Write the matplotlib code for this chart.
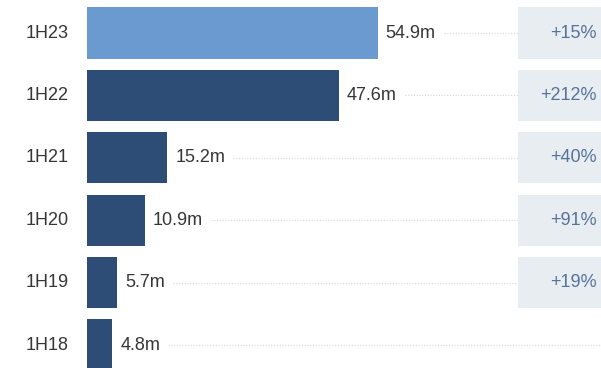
import matplotlib
matplotlib.use("Agg")
import matplotlib.pyplot as plt
from matplotlib.patches import Rectangle

periods = ["1H23", "1H22", "1H21", "1H20", "1H19", "1H18"]
values = [54.9, 47.6, 15.2, 10.9, 5.7, 4.8]
growth = ["+15%", "+212%", "+40%", "+91%", "+19%", None]

HIGHLIGHT = "#6a9ad0"
BASE = "#2d4d76"
BOX = "#e8edf2"
GROWTH_TEXT = "#56729a"
GRID = "#d6d6d6"
LABEL = "#363636"

plt.rcParams["font.family"] = ["Liberation Sans", "DejaVu Sans"]

W, H = 601, 368
fig = plt.figure(figsize=(W / 100, H / 100), dpi=100)

# axes begins where the bars start; scale ~5.3 px per million
left_px = 87
px_per_unit = 5.295
pitch = 62.4
first_center = 33
ax = fig.add_axes([left_px / W, 0, 1 - left_px / W, 1])
ax.set_xlim(0, (W - left_px) / px_per_unit)
ax.set_ylim(5 + (H - first_center - 5 * pitch) / pitch, -first_center / pitch)
ax.axis("off")

ypos = list(range(len(periods)))
colors = [HIGHLIGHT] + [BASE] * (len(periods) - 1)
ax.barh(ypos, values, height=0.82, color=colors, edgecolor="none", zorder=3)

box_x0 = (518 - left_px) / px_per_unit
xmax = ax.get_xlim()[1]

fig.canvas.draw()
renderer = fig.canvas.get_renderer()
inv = ax.transData.inverted()

for y, label, v, g in zip(ypos, periods, values, growth):
    ax.text(-(left_px - 69) / px_per_unit, y, label, ha="right", va="center",
            fontsize=13, color=LABEL, clip_on=False)
    t = ax.text(v + 8 / px_per_unit, y, f"{v}m", ha="left", va="center",
                fontsize=13, color=LABEL, zorder=4)
    bb = t.get_window_extent(renderer)
    x_end = inv.transform((bb.x1, bb.y0))[0] + 8 / px_per_unit
    line_end = box_x0 if g else xmax
    ax.plot([x_end, line_end], [y, y], color=GRID, lw=0.8, ls=(0, (1, 1.5)), zorder=1)
    if g:
        ax.add_patch(Rectangle((box_x0, y - 0.41), xmax - box_x0 + 1, 0.82,
                               facecolor=BOX, edgecolor="none", zorder=2))
        ax.text(xmax - 4 / px_per_unit, y, g, ha="right", va="center",
                fontsize=13, color=GROWTH_TEXT, zorder=4)

fig.savefig("out.png", dpi=100)
